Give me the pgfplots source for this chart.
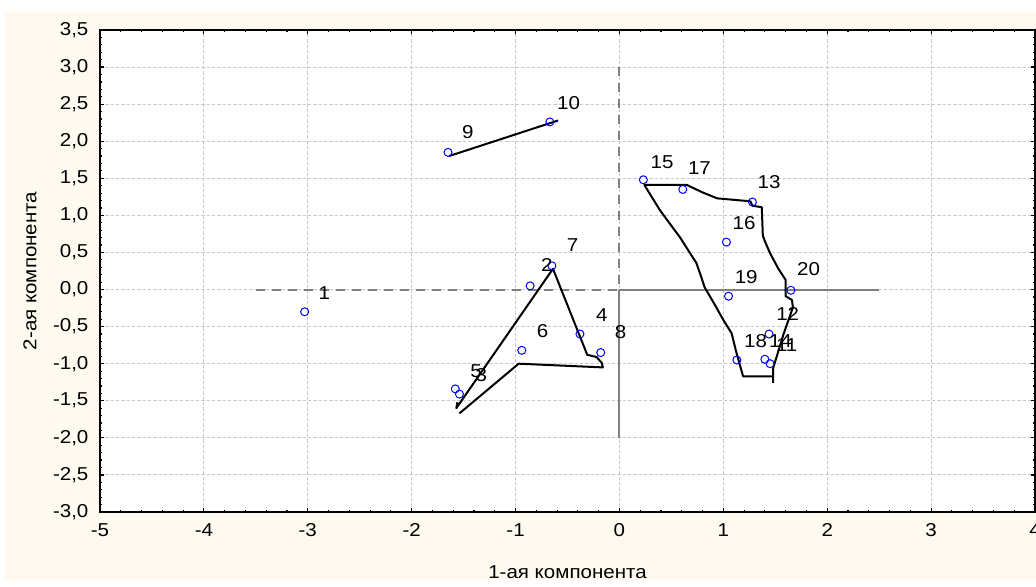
\documentclass[border=0pt]{standalone}
\usepackage{pgfplots}
\pgfplotsset{compat=1.18}
\usepackage{pgfplotstable}
\usepackage{fontspec}
\setmainfont{Liberation Sans}[FakeStretch=1.1]
\definecolor{cream}{RGB}{255,250,240}
\definecolor{gridgray}{RGB}{200,200,200}
\definecolor{refgray}{RGB}{128,128,128}
\newcommand{\chartfont}{\fontsize{14}{16}\selectfont}

\pgfplotstableread{
label x y
1 -3.03 -0.30
2 -0.86 0.05
3 -1.54 -1.41
4 -0.38 -0.60
5 -1.58 -1.34
6 -0.94 -0.82
7 -0.65 0.32
8 -0.18 -0.85
9 -1.65 1.85
10 -0.67 2.26
11 1.45 -1.00
12 1.44 -0.60
13 1.28 1.18
14 1.40 -0.94
15 0.23 1.48
16 1.03 0.64
17 0.61 1.35
18 1.13 -0.95
19 1.05 -0.09
20 1.65 -0.01
}\points

\pgfplotstableread{
label x y
1 -2.84 -0.05
2 -0.70 0.33
3 -1.33 -1.15
4 -0.17 -0.34
5 -1.38 -1.10
6 -0.74 -0.56
7 -0.45 0.60
8 0.01 -0.57
9 -1.46 2.12
10 -0.49 2.52
11 1.61 -0.75
12 1.62 -0.33
13 1.44 1.45
14 1.55 -0.69
15 0.41 1.72
16 1.20 0.90
17 0.77 1.64
18 1.31 -0.69
19 1.22 0.17
20 1.82 0.28
}\labelpos

\begin{document}
\begin{tikzpicture}
\fill[white] (0,0) rectangle (777pt,439.5pt);
\fill[cream] (3.75pt,4.5pt) rectangle (777pt,430.5pt);
\begin{axis}[
  at={(75pt,55.5pt)}, anchor=south west,
  scale only axis, width=701.25pt, height=361.5pt,
  xmin=-5, xmax=4, ymin=-3, ymax=3.5,
  axis background/.style={fill=white},
  axis line style={black, line width=1.5pt},
  xtick={-5,-4,...,4},
  ytick={-3,-2.5,...,3.5},
  xticklabels={-5,-4,-3,-2,-1,0,1,2,3,4},
  yticklabels={{-3,0},{-2,5},{-2,0},{-1,5},{-1,0},{-0,5},{0,0},{0,5},{1,0},{1,5},{2,0},{2,5},{3,0},{3,5}},
  minor x tick num=4, minor y tick num=4,
  tick pos=both, tick align=inside,
  major tick length=3pt, minor tick length=1.8pt,
  tick style={black, line width=0.9pt},
  grid=major,
  major grid style={gridgray, line width=0.75pt, dash pattern=on 2.5pt off 1.5pt},
  tick label style={font=\chartfont},
  xticklabel style={anchor=center, yshift=-13.5pt},
  yticklabel style={anchor=east, inner sep=0pt, xshift=-8.5pt},
  xlabel={1-ая компонента},
  ylabel={2-ая компонента},
  every axis x label/.style={at={(axis description cs:0.5,-0.1245)}, anchor=center, font=\chartfont},
  every axis y label/.style={at={(axis description cs:-0.0749,0.5)}, rotate=90, anchor=center, font=\chartfont},
]
% reference axes
\addplot[refgray, line width=1.5pt, dash pattern=on 6.75pt off 5.25pt] coordinates {(-3.5,0) (0,0)};
\addplot[refgray, line width=1.5pt, dash pattern=on 6.75pt off 5.25pt] coordinates {(0,3.0) (0,0)};
\addplot[refgray, line width=1.5pt] coordinates {(0,0) (2.5,0)};
\addplot[refgray, line width=1.5pt] coordinates {(0,0) (0,-2.0)};
% line 9-10
\addplot[black, line width=1.5pt] coordinates {(-1.64,1.80) (-0.59,2.28)};
% group 2 polygon
\addplot[black, line width=1.5pt, line join=round] coordinates {
(-1.56,-1.52) (-1.57,-1.60) (-0.64,0.28) (-0.31,-0.88) (-0.22,-0.91) (-0.17,-0.99) (-0.16,-1.05) (-0.97,-1.00) (-1.54,-1.67)};
% group 3 polygon
\addplot[black, line width=1.5pt, line join=round] coordinates {
(1.48,-1.26) (1.48,-1.06) (1.58,-0.60) (1.67,-0.24) (1.66,-0.14) (1.60,-0.09) (1.60,0.13) (1.53,0.28) (1.45,0.49) (1.40,0.65) (1.38,0.73) (1.37,1.11) (1.28,1.13) (1.26,1.19) (0.94,1.23) (0.80,1.31) (0.74,1.35) (0.65,1.41) (0.24,1.41)
(0.39,1.07) (0.50,0.86) (0.58,0.71) (0.68,0.49) (0.74,0.36) (0.78,0.20) (0.82,0.03) (0.92,-0.21) (1.00,-0.41) (1.08,-0.59) (1.12,-0.82) (1.19,-1.17) (1.48,-1.17)};
% points
\addplot[only marks, mark=o, mark size=3pt, mark options={blue, line width=0.75pt}] table[x=x, y=y] {\points};
% labels
\addplot[draw=none, mark=none, nodes near coords, point meta=explicit symbolic,
  nodes near coords align={anchor=center},
  every node near coord/.append style={anchor=center, inner sep=0pt, font=\chartfont, text=black}]
  table[x=x, y=y, meta=label] {\labelpos};
\end{axis}
\pgfresetboundingbox
\useasboundingbox (0,0) rectangle (777pt,439.5pt);
\end{tikzpicture}
\end{document}
